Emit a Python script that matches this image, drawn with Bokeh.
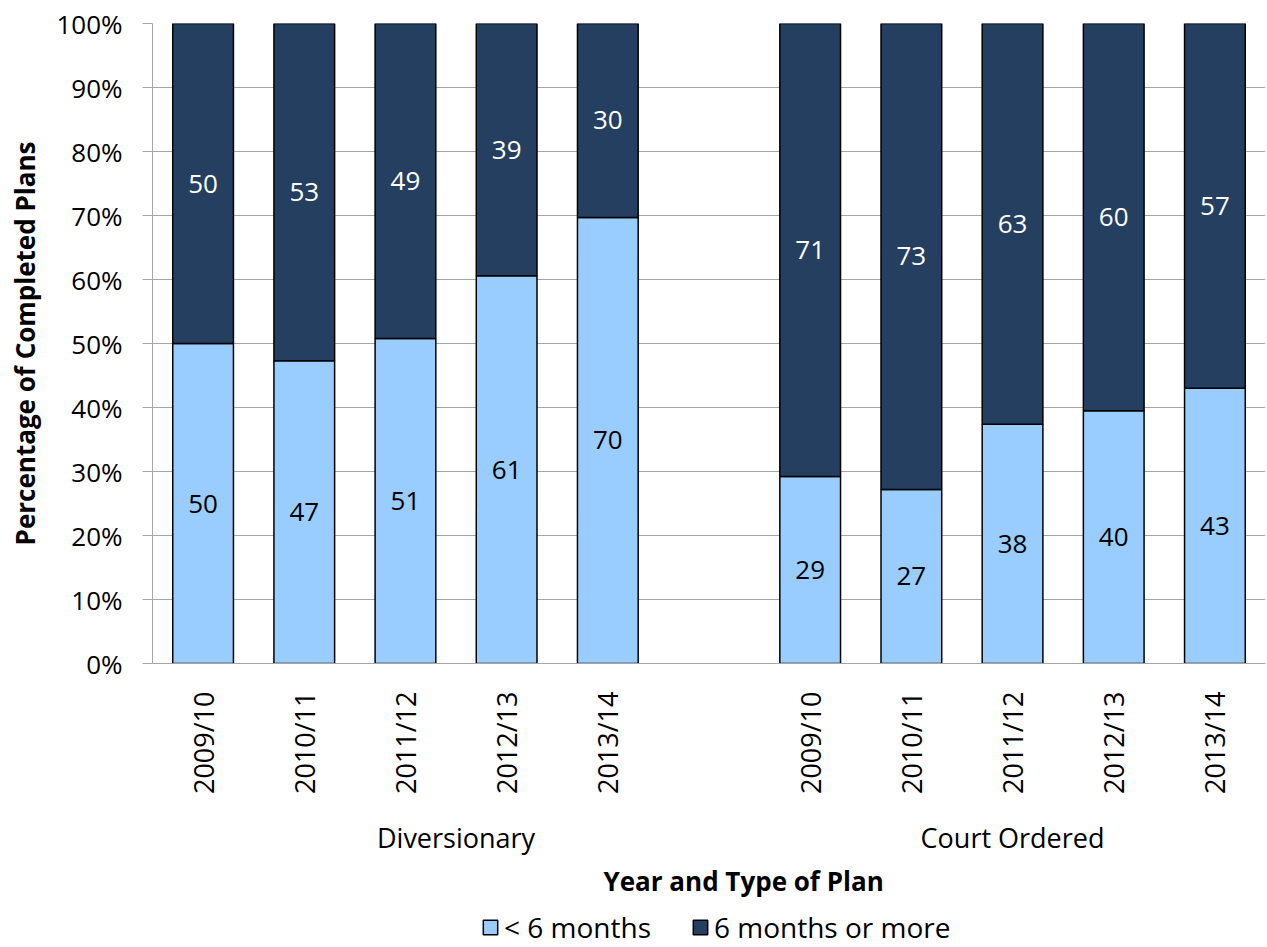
import math
from bokeh.plotting import figure
from bokeh.layouts import column
from bokeh.models import (ColumnDataSource, Range1d, FixedTicker, PrintfTickFormatter,
                          LinearAxis, Legend, LegendItem, Title)
from bokeh.embed import file_html
from bokeh.resources import INLINE

# ---- data ----
groups = ["Diversionary", "Court Ordered"]
years = ["2009/10", "2010/11", "2011/12", "2012/13", "2013/14"]
under6_div = [50.0, 47.3, 50.8, 60.6, 69.7]
under6_court = [29.2, 27.2, 37.4, 39.5, 43.0]
label_under6 = ["50", "47", "51", "61", "70", "29", "27", "38", "40", "43"]
label_over6 = ["50", "53", "49", "39", "30", "71", "73", "63", "60", "57"]
series_names = ["< 6 months", "6 months or more"]

FONT = "Open Sans"
LIGHT = "#99CCFF"
DARK = "#243F60"
GRID = "#A6A6A6"
W, H, LEG_H = 1267, 947, 38

# positions: 5 bars, one empty slot, 5 bars
n = len(years)
xs = [i + 0.5 for i in range(n)] + [n + 1 + i + 0.5 for i in range(n)]
under = under6_div + under6_court
over = [100 - v for v in under]
src = ColumnDataSource(dict(
    x=xs, under=under, over=over, top=[100.0] * len(xs),
    ymid_under=[u / 2 for u in under],
    ymid_over=[u + (100 - u) / 2 for u in under],
    lab_u=label_under6, lab_o=label_over6,
))

p = figure(width=W, height=H - LEG_H, output_backend="svg", toolbar_location=None,
           x_range=Range1d(0, 2 * n + 1), y_range=Range1d(0, 100),
           min_border_left=152, min_border_right=2, min_border_top=23,
           min_border_bottom=H - LEG_H - 663, x_axis_type=None)
p.outline_line_color = None
p.background_fill_color = "white"

r1 = p.vbar(x="x", width=0.6, bottom=0, top="under", source=src,
            fill_color=LIGHT, line_color="black", line_width=1.5)
r2 = p.vbar(x="x", width=0.6, bottom="under", top="top", source=src,
            fill_color=DARK, line_color="black", line_width=1.5)

p.text(x="x", y="ymid_under", text="lab_u", source=src, text_align="center",
       text_baseline="middle", text_color="black", text_font_size="26px",
       text_font={"value": FONT})
p.text(x="x", y="ymid_over", text="lab_o", source=src, text_align="center",
       text_baseline="middle", text_color="white", text_font_size="26px",
       text_font={"value": FONT})

# y axis
ya = p.yaxis[0]
ya.ticker = FixedTicker(ticks=list(range(0, 101, 10)))
ya.formatter = PrintfTickFormatter(format="%d%%")
ya.axis_line_color = GRID
ya.major_tick_line_color = GRID
ya.major_tick_out = 10
ya.major_tick_in = 0
ya.minor_tick_line_color = None
ya.major_label_text_font = FONT
ya.major_label_text_font_size = "26px"
ya.major_label_text_color = "black"
ya.major_label_standoff = 20
ya.axis_label = "Percentage of Completed Plans"
ya.axis_label_text_font = FONT
ya.axis_label_text_font_style = "bold"
ya.axis_label_text_font_size = "26px"
ya.axis_label_text_color = "black"
ya.axis_label_standoff = 10

p.ygrid.ticker = FixedTicker(ticks=list(range(0, 101, 10)))
p.ygrid.grid_line_color = GRID
p.ygrid.grid_line_width = 1
p.xgrid.grid_line_color = None

# x axis: years
xa = LinearAxis(ticker=FixedTicker(ticks=xs),
                major_label_overrides={x: y for x, y in zip(xs, years + years)})
xa.axis_line_color = GRID
xa.major_tick_line_color = None
xa.minor_tick_line_color = None
xa.major_label_orientation = math.pi / 2
xa.major_label_text_font = FONT
xa.major_label_text_font_size = "27px"
xa.major_label_text_color = "black"
xa.major_label_standoff = 22
p.add_layout(xa, "below")

# x axis: groups (Diversionary spans its 5 years plus the empty slot)
gx = [(n + 1) / 2, n + 1 + n / 2]
ga = LinearAxis(ticker=FixedTicker(ticks=gx),
                major_label_overrides={x: g for x, g in zip(gx, groups)})
ga.axis_line_color = None
ga.major_tick_line_color = None
ga.minor_tick_line_color = None
ga.major_label_text_font = FONT
ga.major_label_text_font_size = "27px"
ga.major_label_text_color = "black"
ga.major_label_standoff = 15
p.add_layout(ga, "below")

# x axis title
p.add_layout(Title(text="Year and Type of Plan", align="left", offset=451,
                   text_font=FONT, text_font_style="bold",
                   text_font_size="26px", text_color="black", standoff=4),
             "below")

# legend strip: hidden copies of the bar renderers, only the legend shows
lg = figure(width=W, height=LEG_H, output_backend="svg", toolbar_location=None,
            x_range=Range1d(0, 2 * n + 1), y_range=Range1d(0, 100),
            x_axis_type=None, y_axis_type=None,
            min_border_left=0, min_border_right=0, min_border_top=0,
            min_border_bottom=0)
lg.outline_line_color = None
lg.xgrid.grid_line_color = None
lg.ygrid.grid_line_color = None
d1 = lg.vbar(x="x", width=0.6, bottom=0, top="under", source=src,
             fill_color=LIGHT, line_color="black", line_width=1.5)
d2 = lg.vbar(x="x", width=0.6, bottom="under", top="top", source=src,
             fill_color=DARK, line_color="black", line_width=1.5)
d1.visible = False
d2.visible = False
legend = Legend(items=[LegendItem(label=series_names[0], renderers=[d1]),
                       LegendItem(label=series_names[1], renderers=[d2])],
                orientation="horizontal", location=(329, 1),
                label_text_font=FONT, label_text_font_size="28px",
                label_text_color="black", label_standoff=5,
                glyph_width=18, glyph_height=18, spacing=40,
                border_line_color=None, background_fill_alpha=0,
                padding=2, margin=0)
lg.add_layout(legend, "center")

layout = column(p, lg, spacing=0)
open("out.html", "w").write(file_html(layout, INLINE))
